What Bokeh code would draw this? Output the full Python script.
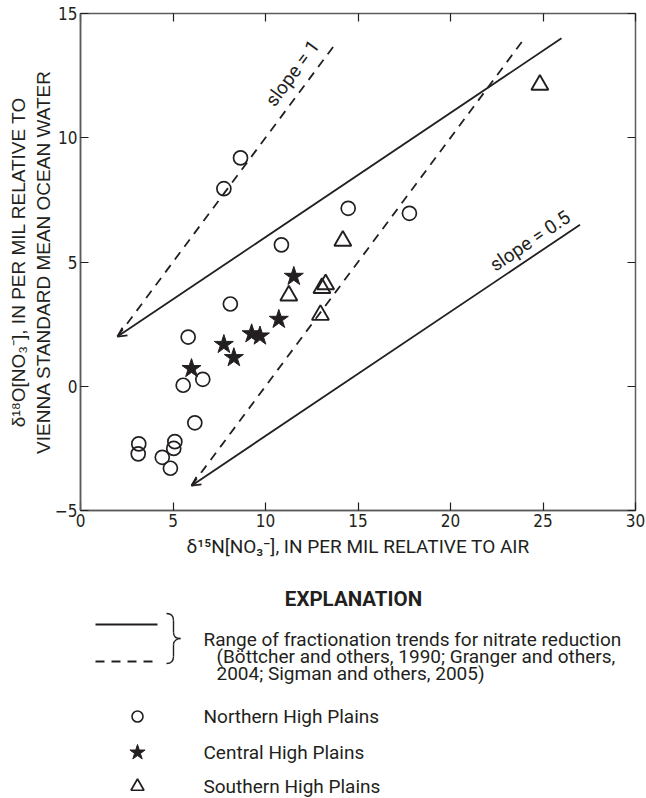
from bokeh.plotting import figure
from bokeh.models import Range1d, LinearAxis, FixedTicker, Arrow, OpenHead
from bokeh.layouts import column
from bokeh.embed import file_html
from bokeh.resources import INLINE
from bokeh.core.properties import value

# ---------------- data ----------------
north_x = [8.65, 7.75, 10.86, 14.47, 17.78, 8.1, 5.82, 5.55, 6.61, 6.18, 3.15, 3.12, 4.42, 4.86, 5.1, 5.04]
north_y = [9.19, 7.95, 5.69, 7.16, 6.96, 3.31, 1.98, 0.04, 0.28, -1.47, -2.32, -2.72, -2.86, -3.3, -2.23, -2.5]

central_x = [11.53, 10.72, 9.7, 9.25, 7.75, 8.29, 6.0]
central_y = [4.42, 2.69, 2.02, 2.11, 1.68, 1.15, 0.71]

south_x = [24.83, 14.18, 13.25, 13.05, 12.97, 11.26]
south_y = [12.13, 5.85, 4.1, 3.95, 2.87, 3.65]

# fractionation trend lines (lower-left point -> upper-right point)
trend_x0 = [2, 2, 6, 6]
trend_y0 = [2, 2, -4, -4]
trend_x1 = [13.8, 26, 24, 27]
trend_y1 = [13.8, 14, 14, 6.5]
trend_dash = ["dashed", "solid", "dashed", "solid"]

slope_labels = ["slope = 1", "slope = 0.5"]
slope_x = [11.45, 24.3]
slope_y = [12.6, 5.85]
slope_angle = [53.4, 34.0]

x_ticks = [0, 5, 10, 15, 20, 25, 30]
y_ticks = [-5, 0, 5, 10, 15]

x_title = "δ¹⁵N[NO₃⁻], IN PER MIL RELATIVE TO AIR"
y_title = "δ¹⁸O[NO₃⁻], IN PER MIL RELATIVE TO\nVIENNA STANDARD MEAN OCEAN WATER"

legend_title = "EXPLANATION"
range_text = ["Range of fractionation trends for nitrate reduction",
              "(Böttcher and others, 1990; Granger and others,",
              "2004; Sigman and others, 2005)"]
group_labels = ["Northern High Plains", "Central High Plains", "Southern High Plains"]
group_markers = ["circle", "star", "triangle"]

INK = "#231f20"
FRAME = "#5b5b5b"
COND = "DejaVu Sans Condensed"
TXT = "Roboto"

# ---------------- main plot ----------------
p = figure(width=646, height=560, x_range=Range1d(0, 30), y_range=Range1d(-5, 15),
           output_backend="svg", toolbar_location=None,
           min_border_left=80, min_border_right=11, min_border_top=13, min_border_bottom=48)
p.grid.visible = False
p.outline_line_color = FRAME
p.outline_line_width = 1.5

for ax, ticks in ((p.xaxis[0], x_ticks), (p.yaxis[0], y_ticks)):
    ax.ticker = FixedTicker(ticks=ticks)
    ax.major_tick_in = 8
    ax.major_tick_out = 0
    ax.minor_tick_line_color = None
    ax.axis_line_color = FRAME
    ax.axis_line_width = 1.5
    ax.major_tick_line_color = INK
    ax.major_tick_line_width = 1.2
    ax.major_label_text_font = COND
    ax.major_label_text_font_size = "17px"
    ax.major_label_text_color = INK
    ax.major_label_standoff = 3
    ax.axis_label_text_font_style = "normal"
    ax.axis_label_text_color = INK

p.yaxis.major_label_overrides = {-5: "\u22125"}
p.xaxis.axis_label = x_title
p.xaxis.axis_label_text_font = TXT
p.xaxis.axis_label_text_font_size = "19px"
p.xaxis.axis_label_standoff = 5
p.yaxis.axis_label = y_title
p.yaxis.axis_label_text_font = "Liberation Sans"
p.yaxis.axis_label_text_font_size = "19px"
p.yaxis.axis_label_standoff = -2

for loc, ticks in (("above", x_ticks), ("right", y_ticks)):
    a = LinearAxis(ticker=FixedTicker(ticks=ticks), major_tick_in=8, major_tick_out=0,
                   major_label_text_font_size="0px", major_label_standoff=0,
                   axis_line_color=None, minor_tick_line_color=None,
                   major_tick_line_color=INK, major_tick_line_width=1.2)
    p.add_layout(a, loc)

for i in range(len(trend_x0)):
    p.line([trend_x0[i], trend_x1[i]], [trend_y0[i], trend_y1[i]],
           line_color=INK, line_width=1.8,
           line_dash="9 7" if trend_dash[i] == "dashed" else "solid")
    if trend_dash[i] == "solid":
        p.add_layout(Arrow(end=OpenHead(size=9, line_width=1.8, line_color=INK),
                           x_start=trend_x1[i], y_start=trend_y1[i],
                           x_end=trend_x0[i], y_end=trend_y0[i], line_alpha=0))

p.text(x=slope_x, y=slope_y, text=slope_labels, angle=slope_angle, angle_units="deg",
       text_align="center", text_baseline="middle", text_color=INK,
       text_font=value(TXT), text_font_size="19px")

p.scatter(north_x, north_y, marker="circle", size=14, fill_color=None,
          line_color=INK, line_width=1.7)
p.scatter(south_x, south_y, marker="triangle", size=17, fill_color=None,
          line_color=INK, line_width=1.9)
p.scatter(central_x, central_y, marker="star", size=20, fill_color=INK,
          line_color=INK, line_width=1)

# ---------------- explanation (coordinates = page pixels) ----------------
q = figure(width=646, height=238, x_range=Range1d(80, 635), y_range=Range1d(798, 560),
           x_axis_type=None, y_axis_type=None, output_backend="svg", toolbar_location=None,
           min_border_left=80, min_border_right=11, min_border_top=0, min_border_bottom=0,
           outline_line_color=None)
q.grid.visible = False

q.text(x=[353], y=[598], text=[legend_title], text_align="center", text_baseline="middle",
       text_font=value(TXT), text_font_style="bold", text_font_size="20.5px", text_color=INK)

q.line([95, 157], [624, 624], line_color=INK, line_width=1.8)
q.line([95, 157], [661, 661], line_color=INK, line_width=1.8, line_dash="9 7")

# brace
q.bezier(x0=[166, 173, 173, 180, 173, 173], y0=[613, 620, 632, 638, 644, 656],
         x1=[173, 173, 180, 173, 173, 166], y1=[620, 632, 638, 644, 656, 663],
         cx0=[171, 173, 173, 177, 173, 173], cy0=[613, 624, 636, 638, 648, 661],
         cx1=[173, 173, 176, 173, 173, 171], cy1=[615, 628, 638, 640, 652, 663],
         line_color=INK, line_width=1.4)

q.text(x=[203, 216, 216], y=[639, 656, 673], text=range_text, text_baseline="middle",
       text_font=value(TXT), text_font_size="19px", text_color=INK)

q.scatter([137], [716], marker=group_markers[0], size=11, fill_color=None, line_color=INK, line_width=1.6)
q.scatter([137], [752], marker=group_markers[1], size=16, fill_color=INK, line_color=INK, line_width=1)
q.scatter([137], [786], marker=group_markers[2], size=13, fill_color=None, line_color=INK, line_width=1.7)

q.text(x=[203, 203, 203], y=[716, 752, 786], text=group_labels, text_baseline="middle",
       text_font=value(TXT), text_font_size="19px", text_color=INK)

layout = column(p, q, spacing=0)
open("out.html", "w").write(file_html(layout, INLINE))
